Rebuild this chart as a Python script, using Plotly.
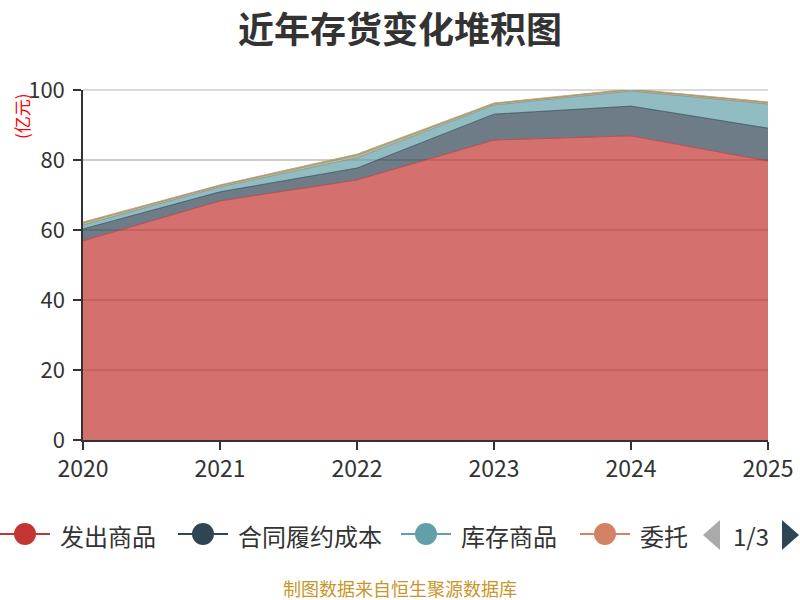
import plotly.graph_objects as go

years = [2020, 2021, 2022, 2023, 2024, 2025]

series_names = ["发出商品", "合同履约成本", "库存商品", "委托加工物资", "原材料", "在产品", "周转材料", "半成品"]
fachu = [56.9, 68.3, 74.3, 85.7, 86.9, 79.7]
hetong = [3.4, 2.6, 3.4, 7.4, 8.5, 9.4]
kucun = [1.1, 1.4, 2.9, 2.6, 4.3, 6.9]
weituo = [0.1, 0.1, 0.1, 0.1, 0.1, 0.1]
yuancailiao = [0.3, 0.2, 0.3, 0.2, 0.2, 0.2]
zaichanpin = [0.2, 0.1, 0.3, 0.1, 0.1, 0.1]
zhouzhuan = [0.2, 0.1, 0.3, 0.1, 0.1, 0.1]
banchengpin = [0.1, 0.1, 0.1, 0.1, 0.1, 0.1]
series_values = [fachu, hetong, kucun, weituo, yuancailiao, zaichanpin, zhouzhuan, banchengpin]

colors = ["#c23531", "#2f4554", "#61a0a8", "#d48265", "#91c7ae", "#749f83", "#ca8622", "#bda29a"]

legend_labels = ["发出商品", "合同履约成本", "库存商品", "委托"]
page_text = "1/3"
title_text = "近年存货变化堆积图"
unit_text = "(亿元)"
footer_text = "制图数据来自恒生聚源数据库"
y_ticks = [0, 20, 40, 60, 80, 100]

FONT = "Noto Sans CJK SC, Microsoft YaHei, sans-serif"


def rgba(h, a):
    h = h.lstrip("#")
    r, g, b = int(h[0:2], 16), int(h[2:4], 16), int(h[4:6], 16)
    return f"rgba({r},{g},{b},{a})"


fig = go.Figure()
for name, vals, c in zip(series_names, series_values, colors):
    fig.add_trace(go.Scatter(
        x=years, y=vals, name=name, mode="lines",
        stackgroup="one", fillcolor=rgba(c, 0.7),
        line=dict(color=rgba(c, 0.7), width=1),
        showlegend=False,
    ))

# plot area in pixels
L, R, T, B = 83, 768, 90, 440
W, H = R - L, B - T
Y0, Y1 = y_ticks[0], y_ticks[-1]


def px(x):
    return (x - L) / W


def py(y):
    return (B - y) / H


shapes = []
annotations = []

# top gridline (Plotly hides a gridline sitting on the plot edge)
top = (y_ticks[-1] - Y0) / (Y1 - Y0)
shapes.append(dict(type="line", xref="paper", yref="paper", x0=0, x1=1,
                   y0=top, y1=top, layer="below",
                   line=dict(color="#cccccc", width=1.5)))

# manual legend (first page)
legend_starts = [0, 178, 401, 580]
ly = 534
for lab, c, x0 in zip(legend_labels, colors, legend_starts):
    shapes.append(dict(type="line", xref="paper", yref="paper",
                       x0=px(x0), x1=px(x0 + 50), y0=py(ly), y1=py(ly),
                       line=dict(color=c, width=2)))
    cx = x0 + 25
    shapes.append(dict(type="circle", xref="paper", yref="paper",
                       x0=px(cx - 11), x1=px(cx + 11), y0=py(ly + 11), y1=py(ly - 11),
                       fillcolor=c, line=dict(color=c, width=0)))
    annotations.append(dict(text=lab, xref="paper", yref="paper",
                            x=px(x0 + 58), y=py(ly + 1), xanchor="left", yanchor="middle",
                            showarrow=False, font=dict(size=24, color="#333333", family=FONT)))

# pagination controls
shapes.append(dict(type="path", xref="paper", yref="paper",
                   path=f"M{px(720)},{py(520)} L{px(720)},{py(550)} L{px(703)},{py(535)} Z",
                   fillcolor="#aaaaaa", line=dict(width=0)))
shapes.append(dict(type="path", xref="paper", yref="paper",
                   path=f"M{px(782)},{py(520)} L{px(782)},{py(550)} L{px(799)},{py(535)} Z",
                   fillcolor="#2f4554", line=dict(width=0)))
annotations.append(dict(text=page_text, xref="paper", yref="paper",
                        x=px(751), y=py(535), xanchor="center", yanchor="middle",
                        showarrow=False, font=dict(size=24, color="#333333", family=FONT)))

# unit label
annotations.append(dict(text=unit_text, xref="paper", yref="paper",
                        x=px(21), y=py(116), xanchor="center", yanchor="middle",
                        textangle=-90, showarrow=False,
                        font=dict(size=17, color="#ff0000", family=FONT)))

# footer
annotations.append(dict(text=footer_text, xref="paper", yref="paper",
                        x=px(400), y=py(588), xanchor="center", yanchor="middle",
                        showarrow=False, font=dict(size=18, color="#c8962a", family=FONT)))

# title
annotations.append(dict(text=f"<b>{title_text}</b>", xref="paper", yref="paper",
                        x=px(400), y=py(27), xanchor="center", yanchor="middle",
                        showarrow=False, font=dict(size=36, color="#333333", family=FONT)))

fig.update_layout(
    width=800, height=600,
    margin=dict(l=L, r=800 - R, t=T, b=600 - B, autoexpand=False),
    paper_bgcolor="white", plot_bgcolor="white",
    showlegend=False,
    shapes=shapes,
    annotations=annotations,
    font=dict(family=FONT),
)
fig.update_xaxes(
    range=[years[0], years[-1]], tickvals=years, ticktext=[str(y) for y in years],
    showgrid=False, zeroline=False, automargin=False,
    showline=True, linecolor="#333333", linewidth=1.5,
    ticks="outside", ticklen=8, tickcolor="#333333", tickwidth=1.5,
    tickfont=dict(size=23, color="#333333", family=FONT),
)
fig.update_yaxes(
    range=[Y0, Y1], tickvals=y_ticks,
    showgrid=True, gridcolor="#cccccc", gridwidth=1.5, zeroline=False, automargin=False,
    showline=True, linecolor="#333333", linewidth=1.5,
    ticks="outside", ticklen=8, tickcolor="#333333", tickwidth=1.5,
    ticklabelstandoff=4,
    tickfont=dict(size=22, color="#333333", family=FONT),
)

fig.write_html("out.html")
